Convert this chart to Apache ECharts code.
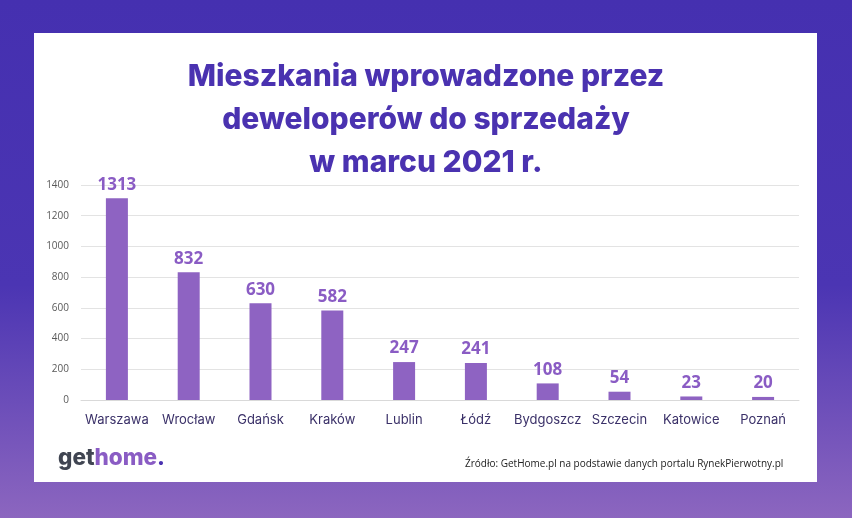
<!DOCTYPE html>
<html>
<head>
<meta charset="utf-8">
<script src="https://cdn.jsdelivr.net/npm/echarts@6/dist/echarts.min.js"></script>
<style>
  html, body { margin: 0; padding: 0; }
  #chart { width: 852px; height: 518px; }
</style>
</head>
<body>
<div id="chart"></div>
<script>
const cities = ['Warszawa', 'Wrocław', 'Gdańsk', 'Kraków', 'Lublin', 'Łódź', 'Bydgoszcz', 'Szczecin', 'Katowice', 'Poznań']
const flats = [1313, 832, 630, 582, 247, 241, 108, 54, 23, 20]
const titleLines = ['Mieszkania wprowadzone przez', 'deweloperów do sprzedaży', 'w marcu 2021 r.']
const sourceText = 'Źródło: GetHome.pl na podstawie danych portalu RynekPierwotny.pl'

const chart = echarts.init(document.getElementById('chart'))

const option = {
  animation: false,
  backgroundColor: new echarts.graphic.LinearGradient(0, 0, 0, 1, [
    { offset: 0, color: '#4530b0' },
    { offset: 0.55, color: '#4b35b3' },
    { offset: 1, color: '#8c66bf' },
  ]),
  graphic: [
    {
      type: 'rect',
      z: -1,
      shape: { x: 34, y: 33, width: 783, height: 449 },
      style: { fill: '#ffffff' },
    },
    {
      type: 'text',
      left: 58,
      top: 447,
      style: {
        text: '{g|get}{h|home}{d|.}',
        rich: {
          g: { fontFamily: 'Inter', fontWeight: 800, fontSize: 22.5, fill: '#404552' },
          h: { fontFamily: 'Inter', fontWeight: 800, fontSize: 22.5, fill: '#8a5cc4' },
          d: { fontFamily: 'Inter', fontWeight: 800, fontSize: 22.5, fill: '#4a32b0' },
        },
      },
    },
    {
      type: 'text',
      left: 465,
      top: 459,
      style: {
        text: sourceText,
        fontFamily: 'Open Sans',
        fontSize: 10,
        fill: '#222222',
      },
    },
  ],
  title: {
    text: titleLines.join('\n'),
    left: 'center',
    top: 50,
    textStyle: {
      fontFamily: 'Inter',
      fontSize: 30,
      fontWeight: 800,
      color: '#4a32b0',
      lineHeight: 43,
    },
  },
  grid: {
    left: 81,
    right: 53,
    top: 185,
    bottom: 118,
  },
  xAxis: {
    type: 'category',
    data: cities,
    axisTick: { show: false },
    axisLine: { lineStyle: { color: '#d9d9d9' } },
    axisLabel: {
      fontFamily: 'Inter',
      fontSize: 13,
      color: '#3a3068',
      margin: 14,
      interval: 0,
    },
  },
  yAxis: {
    type: 'value',
    min: 0,
    max: 1400,
    interval: 200,
    axisLine: { show: false },
    axisTick: { show: false },
    axisLabel: {
      fontFamily: 'Open Sans',
      fontSize: 10,
      color: '#595959',
      margin: 12,
      formatter: (v) => String(v),
    },
    splitLine: { lineStyle: { color: '#e3e3e3' } },
  },
  series: [
    {
      type: 'bar',
      data: flats,
      barWidth: 22,
      itemStyle: { color: '#8e63c2' },
      label: {
        show: true,
        position: 'top',
        distance: 5,
        fontFamily: 'Open Sans',
        fontSize: 17,
        fontWeight: 700,
        color: '#8a5cc4',
      },
    },
  ],
}

chart.setOption(option)
</script>
</body>
</html>
